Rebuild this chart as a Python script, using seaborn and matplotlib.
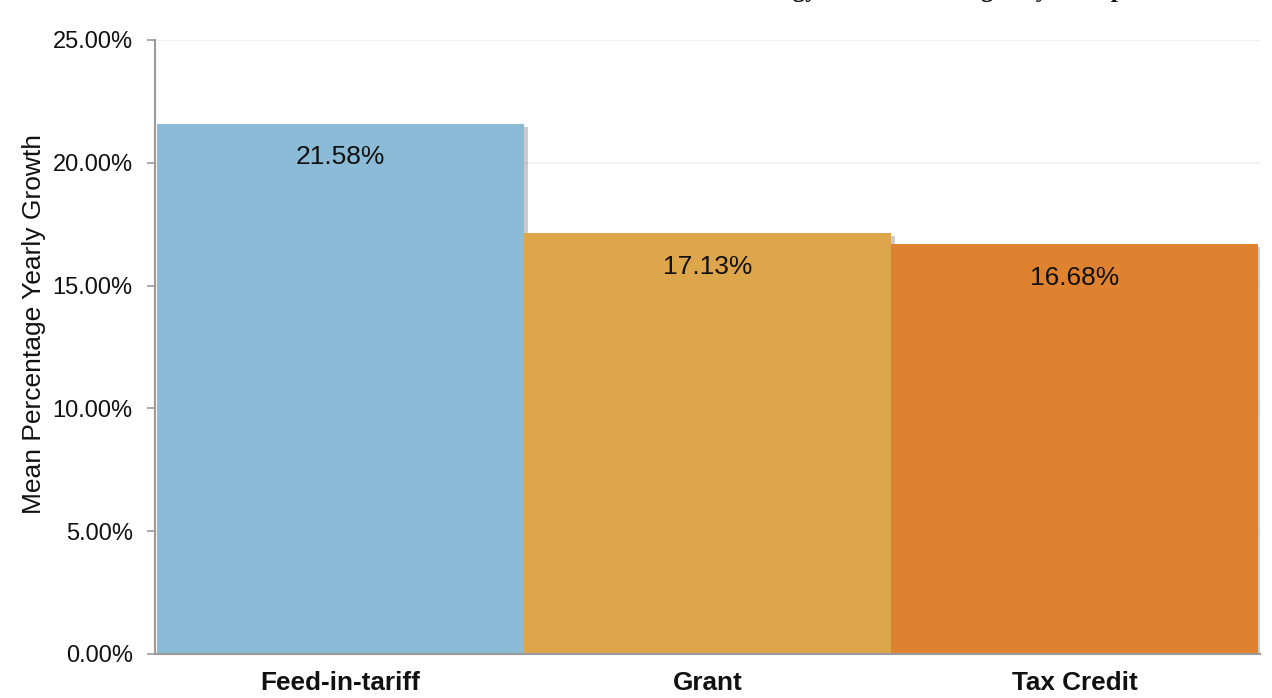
import matplotlib
matplotlib.use("Agg")
import matplotlib.pyplot as plt
import matplotlib.patheffects as pe
from matplotlib.ticker import FuncFormatter
import seaborn as sns
import pandas as pd

categories = ["Feed-in-tariff", "Grant", "Tax Credit"]
values = [21.58, 17.13, 16.68]
colors = ["#8BBBD6", "#DEA64B", "#DF822F"]
y_ticks = [0, 5, 10, 15, 20, 25]
y_label = "Mean Percentage Yearly Growth"
title = "Renewable Energy Growth in Weight by Group"

sns.set_theme(style="white")
plt.rcParams["font.family"] = ["Liberation Sans", "DejaVu Sans"]

df = pd.DataFrame({"cat": categories, "val": values})

fig = plt.figure(figsize=(12.72, 6.98), dpi=100)
ax = fig.add_axes([155 / 1272, 1 - 654 / 698, (1260 - 155) / 1272, (654 - 40) / 698])

sns.barplot(data=df, x="cat", y="val", hue="cat", palette=colors, legend=False,
            width=1.0, saturation=1.0, ax=ax, zorder=3)

for p in ax.patches:
    p.set_linewidth(0)
    p.set_path_effects([pe.SimplePatchShadow(offset=(3, -2), shadow_rgbFace="#555555", alpha=0.3),
                        pe.Normal()])

ax.set_ylim(0, 25)
ax.set_xlim(-0.5055, 2.5055)
ax.set_yticks(y_ticks)
ax.yaxis.set_major_formatter(FuncFormatter(lambda v, _: f"{v:.2f}%"))
ax.grid(axis="y", color="#EFEFEF", linewidth=1.2, zorder=0)
ax.grid(axis="x", visible=False)
ax.set_axisbelow(True)

for s in ["top", "right"]:
    ax.spines[s].set_visible(False)
for s in ["left", "bottom"]:
    ax.spines[s].set_color("#9A9A9A")
    ax.spines[s].set_linewidth(1.5)
ax.spines["bottom"].set_zorder(5)

ax.tick_params(axis="y", which="major", length=6, width=1.2, color="#9A9A9A",
               direction="out", left=True, pad=10, labelsize=17, labelcolor="#111111")
ax.tick_params(axis="x", length=0, pad=12, labelsize=18.8)
for lbl in ax.get_xticklabels():
    lbl.set_fontweight("bold")
    lbl.set_color("#111111")

ax.set_xlabel("")
ax.set_ylabel(y_label, fontsize=19, color="#111111")
ax.yaxis.set_label_coords(-0.0986, 0.537)

for i, v in enumerate(values):
    ax.annotate(f"{v:.2f}%", xy=(i, v), xytext=(0, -24), textcoords="offset points",
                ha="center", va="center", fontsize=19, color="#111111", zorder=6)

fig.text(1125 / 1272, 1 + 3 / 698, title, family="Liberation Serif", fontweight="bold",
         fontsize=18, ha="right", va="baseline", color="#111111")

fig.savefig("out.png", dpi=100, facecolor="white")
